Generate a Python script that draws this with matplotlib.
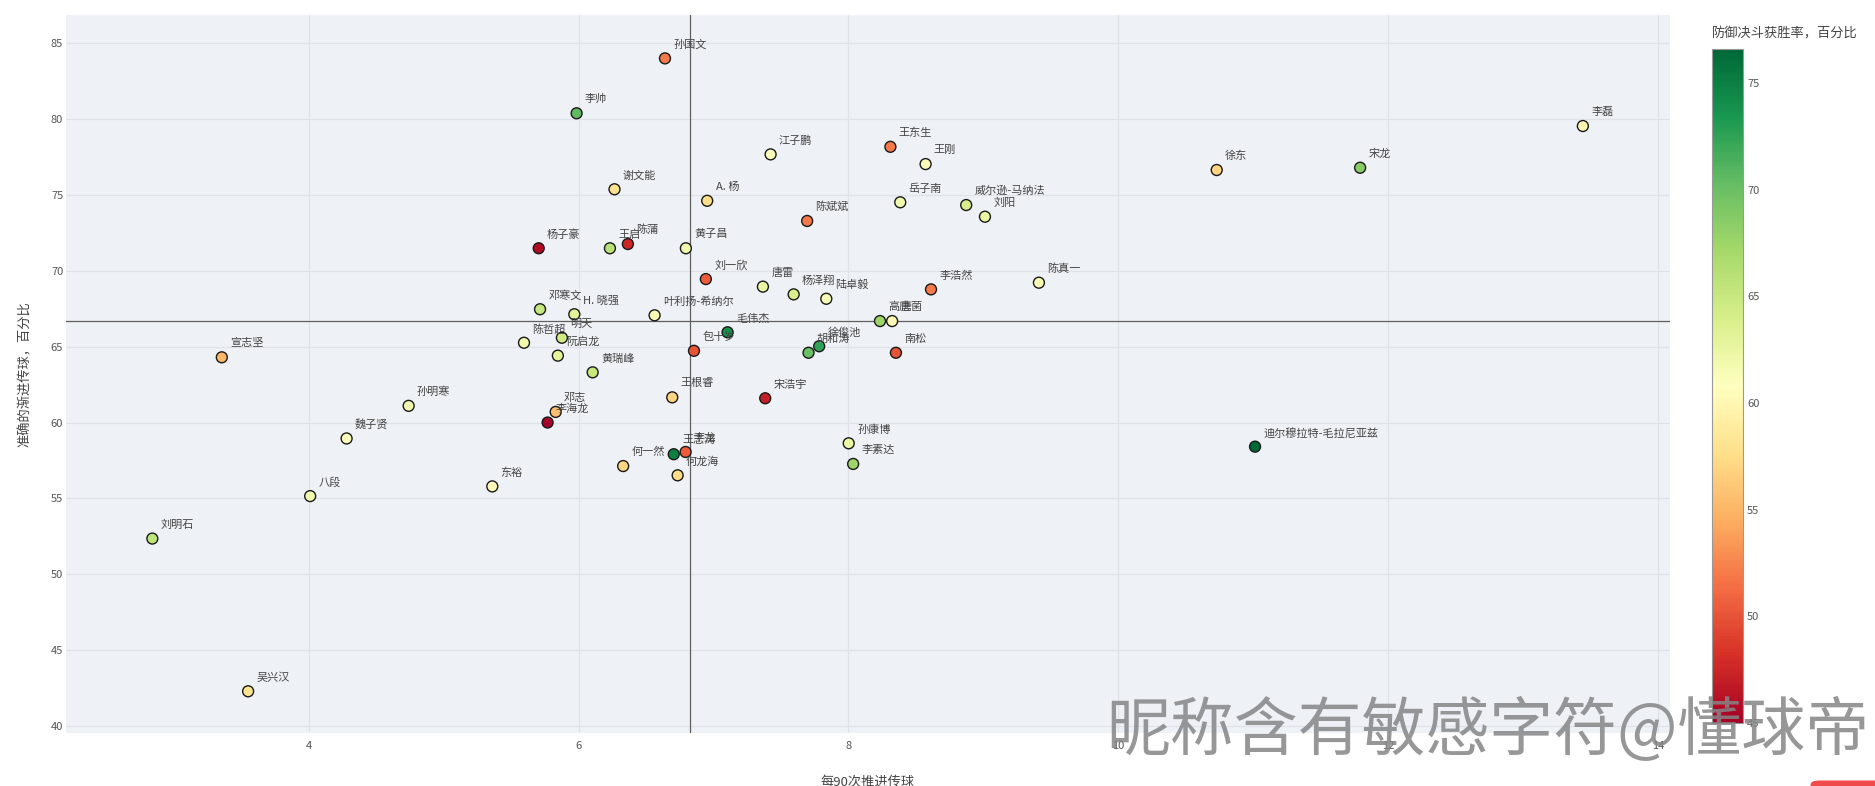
import matplotlib
matplotlib.use("Agg")
import matplotlib.pyplot as plt
import numpy as np
from matplotlib.colors import Normalize
from matplotlib.patches import FancyBboxPatch

plt.rcParams['font.family'] = ['Noto Sans CJK SC', 'DejaVu Sans']

names = ["孙国文", "李帅", "谢文能", "杨子豪", "王启", "陈蒲", "黄子昌", "A. 杨",
         "江子鹏", "王东生", "王刚", "岳子南", "威尔逊-马纳法", "刘阳", "陈斌斌", "徐东",
         "宋龙", "李磊", "刘一欣", "唐雷", "杨泽翔", "陆卓毅", "李浩然", "陈真一",
         "邓寒文", "H. 晓强", "叶利扬-希纳尔", "陈哲超", "明天", "阮启龙", "宣志坚", "黄瑞峰",
         "毛伟杰", "包十岁", "胡和涛", "徐俊池", "高唐", "唐菌", "南松", "王根睿",
         "宋浩宇", "孙明寒", "邓志", "李海龙", "魏子贤", "八段", "刘明石", "吴兴汉",
         "东裕", "何一然", "王志涛", "李龙", "何龙海", "孙康博", "李素达", "迪尔穆拉特-毛拉尼亚兹"]

prog_passes_90 = [6.64, 5.985, 6.266, 5.704, 6.232, 6.365, 6.795, 6.953,
                  7.423, 8.311, 8.572, 8.384, 8.873, 9.012, 7.694, 10.73,
                  11.793, 13.444, 6.943, 7.366, 7.594, 7.836, 8.612, 9.412,
                  5.714, 5.968, 6.563, 5.595, 5.876, 5.846, 3.355, 6.104,
                  7.104, 6.855, 7.704, 7.783, 8.234, 8.324, 8.352, 6.694,
                  7.383, 4.74, 5.83, 5.77, 4.28, 4.01, 2.84, 3.55,
                  5.36, 6.33, 6.705, 6.793, 6.734, 8.002, 8.035, 11.014]

prog_pass_acc = [84.01, 80.39, 75.38, 71.49, 71.49, 71.77, 71.49, 74.62,
                 77.68, 78.18, 77.04, 74.52, 74.34, 73.57, 73.29, 76.65,
                 76.8, 79.55, 69.46, 68.96, 68.45, 68.16, 68.78, 69.22,
                 67.47, 67.14, 67.07, 65.26, 65.59, 64.41, 64.3, 63.31,
                 65.95, 64.73, 64.6, 65.03, 66.69, 66.69, 64.6, 61.66,
                 61.6, 61.1, 60.7, 60.0, 58.95, 55.15, 52.35, 42.28,
                 55.79, 57.13, 57.91, 58.06, 56.52, 58.63, 57.27, 58.41]

def_duel_win = [52, 70.5, 58, 45.8, 66, 47.5, 62, 57.5,
                61, 52, 61, 62, 64, 62.5, 52, 57,
                68.5, 60, 50.5, 62.5, 64, 61.5, 52, 61.5,
                65, 63, 61.5, 62, 64.5, 63, 55, 65,
                74, 50, 70, 72.5, 67.5, 60, 50, 57,
                47, 62, 55.5, 45, 61, 62, 65.5, 58,
                60.5, 57, 75, 50.5, 57.5, 62.5, 67.5, 76.6]

x_ticks = [4, 6, 8, 10, 12, 14]
y_ticks = [40, 45, 50, 55, 60, 65, 70, 75, 80, 85]
cbar_ticks = [45, 50, 55, 60, 65, 70, 75]

x_mean = 6.825
y_mean = 66.69

x_label = "每90次推进传球"
y_label = "准确的渐进传球，百分比"
cbar_title = "防御决斗获胜率，百分比"
watermark = "昵称含有敏感字符@懂球帝"

W, H = 1875, 786
fig = plt.figure(figsize=(W / 100, H / 100), dpi=100)
fig.patch.set_facecolor('white')

ax = fig.add_axes([66 / W, 1 - 733 / H, (1670 - 66) / W, (733 - 15) / H])
ax.set_facecolor('#eef1f5')
ax.set_xlim(2.2, 14.09)
ax.set_ylim(39.53, 86.87)
ax.set_xticks(x_ticks)
ax.set_yticks(y_ticks)
ax.grid(True, color='#dfe3e9', linewidth=0.9)
ax.set_axisbelow(True)
for s in ax.spines.values():
    s.set_visible(False)
ax.tick_params(axis='both', length=0, labelsize=8, labelcolor='#555555')
ax.tick_params(axis='x', pad=6)
ax.tick_params(axis='y', pad=2)

ax.axvline(x_mean, color='#606060', linewidth=0.9, zorder=1.5)
ax.axhline(y_mean, color='#606060', linewidth=0.9, zorder=1.5)

norm = Normalize(vmin=45, vmax=76.6)
cmap = plt.get_cmap('RdYlGn')
sc = ax.scatter(prog_passes_90, prog_pass_acc, c=def_duel_win, cmap=cmap, norm=norm,
                s=62, edgecolors='#1a1a1a', linewidths=1.0, zorder=3)

for n, xv, yv in zip(names, prog_passes_90, prog_pass_acc):
    ax.annotate(n, (xv, yv), xytext=(6, 10), textcoords='offset points',
                ha='left', va='center', fontsize=8, color='#444444', zorder=4)

ax.set_xlabel(x_label, fontsize=9.5, color='#444444', labelpad=18)
ax.set_ylabel(y_label, fontsize=9.5, color='#444444', labelpad=14)

cax = fig.add_axes([1712 / W, 1 - 723 / H, 31 / W, (723 - 49) / H])
cb = fig.colorbar(sc, cax=cax, ticks=cbar_ticks)
cb.outline.set_edgecolor('#999999')
cb.outline.set_linewidth(0.8)
cax.tick_params(length=0, labelsize=8, labelcolor='#555555', pad=3)
fig.text(1712 / W, 1 - 34 / H, cbar_title, ha='left', va='center', fontsize=9.5, color='#444444')

fig.text(1106 / W, 1 - 732 / H, watermark, ha='left', va='center', fontsize=46,
         color='#858585', alpha=0.85, zorder=10)

badge = FancyBboxPatch((1820 / W, -0.01), 0.04, 0.012, boxstyle='round,pad=0.005',
                       transform=fig.transFigure, facecolor='#f04a4a', edgecolor='none', zorder=10)
fig.patches.append(badge)

fig.savefig('out.png', dpi=100)
